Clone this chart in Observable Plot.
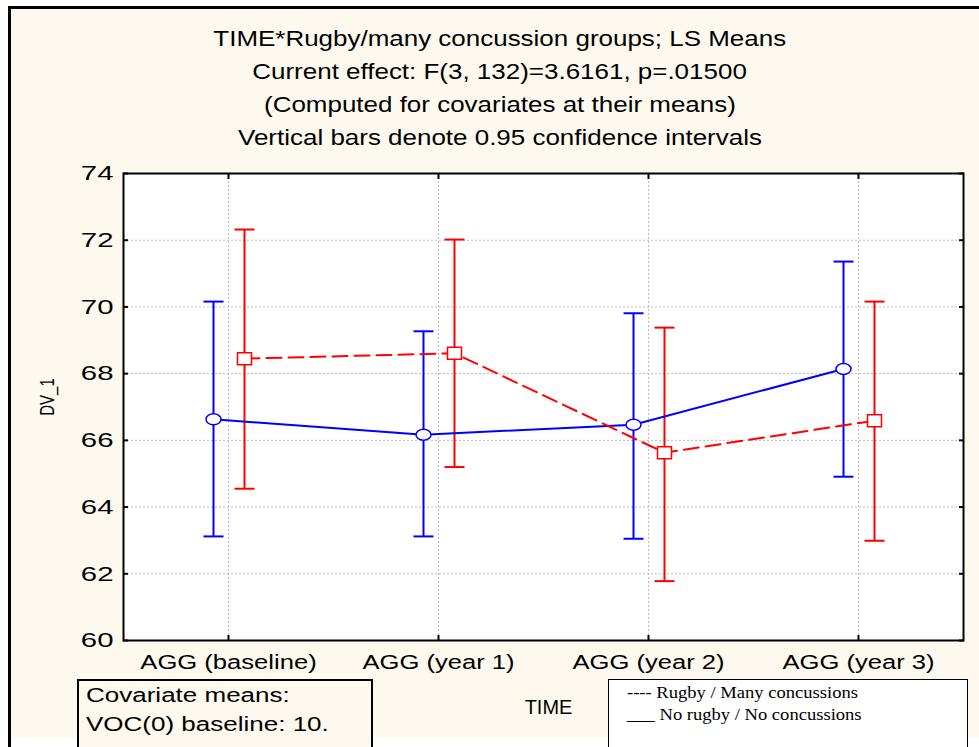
<!DOCTYPE html>
<html>
<head>
<meta charset="utf-8">
<script src="https://cdn.jsdelivr.net/npm/d3@7"></script>
<script src="https://cdn.jsdelivr.net/npm/@observablehq/plot@0.6"></script>
<style>
  html, body { margin: 0; padding: 0; background: #ffffff; }
  #page { position: relative; width: 979px; height: 747px; overflow: hidden;
          font-family: "Liberation Sans", Arial, sans-serif; color: #000; }
  #panel { position: absolute; left: 8px; top: 6px; width: 990px; height: 729px;
           background: #fef9ee; border-left: 3px solid #000; border-top: 3px solid #000; }
  #edge { position: absolute; left: 8px; top: 700px; width: 3px; height: 47px; background: #000; }
  #title { position: absolute; left: 0; top: 22px; width: 1000px; text-align: center;
           font-size: 22px; line-height: 33px; }
  #title div span { display: inline-block; transform-origin: center; transform: scaleX(1.18); }
  #chart { position: absolute; left: 0; top: 150px; }
  #covbox { position: absolute; left: 77px; top: 679px; width: 296px; height: 80px;
            border: 2px solid #000; background: #fef9ee; font-size: 20px; line-height: 29px;
            padding: 0 0 0 7px; box-sizing: border-box; }
  #covbox span { display: inline-block; transform-origin: left center; transform: scaleX(1.3); }
  #legend { position: absolute; left: 608px; top: 679px; width: 360px; height: 90px;
            border: 1.5px solid #000; background: #ffffff; box-sizing: border-box;
            font-family: "Liberation Serif", "Times New Roman", serif; font-size: 16px;
            line-height: 22px; padding: 2px 0 0 18px; }
  #legend span { display: inline-block; transform-origin: left center; transform: scaleX(1.16); }
</style>
</head>
<body>
<div id="page">
  <div id="panel"></div>
  <div id="edge"></div>
  <div id="title"></div>
  <div id="chart"></div>
  <div id="covbox"></div>
  <div id="legend"></div>
</div>
<script>
// Time points on the x axis
const times = ["AGG (baseline)", "AGG (year 1)", "AGG (year 2)", "AGG (year 3)"];
// Groups
const groups = ["Rugby / Many concussions", "No rugby / No concussions"];
const legendLabels = ["---- Rugby / Many concussions", "___ No rugby / No concussions"];
// LS means with 0.95 confidence limits, rugby / many concussions
const rugbyMean  = [68.45, 68.61, 65.63, 66.59];
const rugbyLower = [64.55, 65.20, 61.78, 62.99];
const rugbyUpper = [72.32, 72.02, 69.38, 70.16];
// LS means with 0.95 confidence limits, no rugby / no concussions
const noRugbyMean  = [66.63, 66.17, 66.47, 68.14];
const noRugbyLower = [63.12, 63.12, 63.05, 64.91];
const noRugbyUpper = [70.16, 69.27, 69.81, 71.36];
// Y axis ticks
const yTicks = [60, 62, 64, 66, 68, 70, 72, 74];
const titleLines = [
  "TIME*Rugby/many concussion groups; LS Means",
  "Current effect: F(3, 132)=3.6161, p=.01500",
  "(Computed for covariates at their means)",
  "Vertical bars denote 0.95 confidence intervals"
];
const covariateLines = ["Covariate means:", "VOC(0) baseline: 10."];
const yLabel = "DV_1";
const xLabel = "TIME";

const rugby = times.map((t, i) => ({time: t, group: groups[0], mean: rugbyMean[i], lo: rugbyLower[i], hi: rugbyUpper[i]}));
const noRugby = times.map((t, i) => ({time: t, group: groups[1], mean: noRugbyMean[i], lo: noRugbyLower[i], hi: noRugbyUpper[i]}));

// Marker shapes: open ellipse, open rectangle and a horizontal whisker cap
const ellipse = {
  draw(ctx) {
    const rx = 7.5, ry = 5.5, k = 0.5523;
    ctx.moveTo(rx, 0);
    ctx.bezierCurveTo(rx, ry * k, rx * k, ry, 0, ry);
    ctx.bezierCurveTo(-rx * k, ry, -rx, ry * k, -rx, 0);
    ctx.bezierCurveTo(-rx, -ry * k, -rx * k, -ry, 0, -ry);
    ctx.bezierCurveTo(rx * k, -ry, rx, -ry * k, rx, 0);
    ctx.closePath();
  }
};
const box = { draw(ctx) { ctx.rect(-7, -6, 14, 12); } };
const cap = { draw(ctx) { ctx.moveTo(-10, 0); ctx.lineTo(10, 0); } };

const BLUE = "#0000ff", RED = "#ff0000", GRID = "#bcbcbc";
const offB = -15, offR = 16;

const chart = Plot.plot({
  width: 979,
  height: 597,
  marginTop: 23,
  marginRight: 16,
  marginBottom: 107,
  marginLeft: 123,
  style: {background: "transparent", fontFamily: "'Liberation Sans', Arial, sans-serif", color: "#000", overflow: "visible"},
  x: {type: "point", domain: times, padding: 0.5},
  y: {domain: [60, 74]},
  marks: [
    Plot.frame({fill: "#ffffff", stroke: null}),
    Plot.gridY(yTicks.slice(1, -1), {stroke: GRID, strokeOpacity: 1, strokeDasharray: "2,2"}),
    Plot.gridX(times, {stroke: GRID, strokeOpacity: 1, strokeDasharray: "2,2"}),
    // confidence bars
    Plot.ruleX(noRugby, {x: "time", y1: "lo", y2: "hi", dx: offB, stroke: BLUE, strokeWidth: 2}),
    Plot.dot(noRugby, {x: "time", y: "lo", dx: offB, symbol: cap, stroke: BLUE, strokeWidth: 2}),
    Plot.dot(noRugby, {x: "time", y: "hi", dx: offB, symbol: cap, stroke: BLUE, strokeWidth: 2}),
    Plot.ruleX(rugby, {x: "time", y1: "lo", y2: "hi", dx: offR, stroke: RED, strokeWidth: 2}),
    Plot.dot(rugby, {x: "time", y: "lo", dx: offR, symbol: cap, stroke: RED, strokeWidth: 2}),
    Plot.dot(rugby, {x: "time", y: "hi", dx: offR, symbol: cap, stroke: RED, strokeWidth: 2}),
    // mean profiles
    Plot.line(noRugby, {x: "time", y: "mean", dx: offB, stroke: BLUE, strokeWidth: 2}),
    Plot.line(rugby, {x: "time", y: "mean", dx: offR, stroke: RED, strokeWidth: 2, strokeDasharray: "15,7"}),
    Plot.dot(noRugby, {x: "time", y: "mean", dx: offB, symbol: ellipse, fill: "#ffffff", stroke: BLUE, strokeWidth: 1.5}),
    Plot.dot(rugby, {x: "time", y: "mean", dx: offR, symbol: box, fill: "#ffffff", stroke: RED, strokeWidth: 1.5}),
    Plot.frame({stroke: "#000", strokeWidth: 2}),
    // inward tick marks on all four sides
    Plot.axisY(yTicks, {anchor: "left", tickSize: 5, dx: 5, tickFormat: () => "", label: null, strokeWidth: 2}),
    Plot.axisY(yTicks, {anchor: "right", tickSize: 5, dx: -5, tickFormat: () => "", label: null, strokeWidth: 2}),
    Plot.axisX(times, {anchor: "bottom", tickSize: 5, dy: -5, tickFormat: () => "", label: null, strokeWidth: 2}),
    Plot.axisX(times, {anchor: "top", tickSize: 5, dy: 5, tickFormat: () => "", label: null, strokeWidth: 2}),
    // tick labels and axis titles
    Plot.axisY(yTicks, {anchor: "left", tickSize: 0, tickPadding: 10, fontSize: 21, label: null}),
    Plot.axisX(times, {anchor: "bottom", tickSize: 0, tickPadding: 14, fontSize: 20, label: null}),
    Plot.text([yLabel], {frameAnchor: "left", textAnchor: "middle", dx: -76, dy: -10, rotate: -90, fontSize: 15}),
    Plot.text([xLabel], {frameAnchor: "bottom", dx: 5, dy: 73, fontSize: 21})
  ]
});
document.getElementById("chart").appendChild(chart);

// Widen the axis lettering the way the exported graph renders it
const tickStrings = new Set(yTicks.map(String));
for (const t of chart.querySelectorAll("text")) {
  const s = t.textContent;
  const tr = t.getAttribute("transform") || "";
  if (tickStrings.has(s)) t.setAttribute("transform", tr + " scale(1.4,1)");
  else if (times.includes(s)) t.setAttribute("transform", tr + " scale(1.28,1)");
  else if (s === yLabel) t.setAttribute("transform", tr + " scale(1,1.3)");
  else if (s === xLabel) t.setAttribute("transform", tr + " scale(0.95,1)");
}

function addLines(el, lines) {
  for (const line of lines) {
    const d = document.createElement("div");
    const s = document.createElement("span");
    s.textContent = line;
    d.appendChild(s);
    el.appendChild(d);
  }
}
addLines(document.getElementById("title"), titleLines);
addLines(document.getElementById("covbox"), covariateLines);
addLines(document.getElementById("legend"), legendLabels);
</script>
</body>
</html>
